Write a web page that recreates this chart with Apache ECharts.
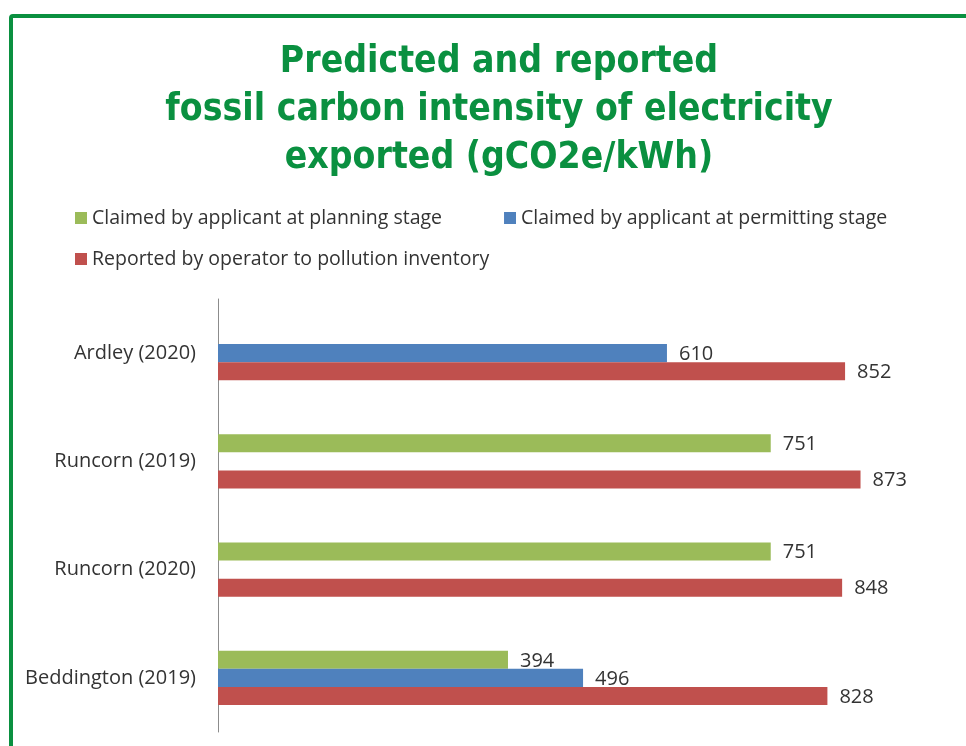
<!DOCTYPE html>
<html>
<head>
<meta charset="utf-8">
<script src="https://cdn.jsdelivr.net/npm/echarts@6/dist/echarts.min.js"></script>
<style>
  html, body { margin: 0; padding: 0; background: #fff; }
  #chart { width: 966px; height: 746px; }
</style>
</head>
<body>
<div id="chart"></div>
<script>
// data
const sites = ['Ardley (2020)', 'Runcorn (2019)', 'Runcorn (2020)', 'Beddington (2019)'];
const seriesNames = [
  'Claimed by applicant at planning stage',
  'Claimed by applicant at permitting stage',
  'Reported by operator to pollution inventory'
];
const planning = [null, 751, 751, 394];
const permitting = [610, null, null, 496];
const reported = [852, 873, 848, 828];

const green = '#0a9040';
const textColor = '#333333';
const barColors = ['#9bbb59', '#4f81bd', '#c0504d'];

const chart = echarts.init(document.getElementById('chart'));

const makeSeries = (name, values, color) => ({
  name: name,
  type: 'bar',
  data: values.map(v => (v === null ? '-' : v)),
  barGap: '0%',
  barCategoryGap: '50%',
  itemStyle: { color: color },
  label: {
    show: true,
    position: 'right',
    distance: 12,
    color: textColor,
    fontFamily: 'Open Sans',
    fontSize: 20,
    offset: [0, 1]
  }
});

chart.setOption({
  animation: false,
  backgroundColor: '#ffffff',
  graphic: [{
    type: 'rect',
    shape: { x: 11, y: 16, width: 1200, height: 1000, r: 2 },
    style: { fill: 'none', stroke: green, lineWidth: 4 },
    silent: true
  }],
  title: {
    text: 'Predicted and reported\nfossil carbon intensity of electricity\nexported (gCO2e/kWh)',
    left: 494,
    textAlign: 'center',
    top: 33,
    textStyle: {
      color: green,
      fontFamily: 'DejaVu Sans Condensed',
      fontWeight: 'bold',
      fontSize: 37,
      lineHeight: 48
    }
  },
  legend: [{
    data: [seriesNames[0], seriesNames[1]],
    left: 70,
    top: 203,
    itemWidth: 12,
    itemHeight: 12,
    itemGap: 62,
    icon: 'rect',
    textStyle: { color: textColor, fontFamily: 'Open Sans', fontSize: 19.5 }
  }, {
    data: [seriesNames[2]],
    left: 70,
    top: 244,
    itemWidth: 12,
    itemHeight: 12,
    icon: 'rect',
    textStyle: { color: textColor, fontFamily: 'Open Sans', fontSize: 19.5 }
  }],
  grid: { left: 218, right: 12, top: 299, bottom: 14 },
  xAxis: {
    type: 'value',
    min: 0,
    max: 1000,
    show: false,
    splitLine: { show: false }
  },
  yAxis: {
    type: 'category',
    data: sites,
    inverse: true,
    axisLine: { show: true, lineStyle: { color: '#8c8c8c', width: 1 } },
    axisTick: { show: false },
    axisLabel: {
      color: textColor,
      fontFamily: 'Open Sans',
      fontSize: 20,
      margin: 22
    }
  },
  series: [
    makeSeries(seriesNames[0], planning, barColors[0]),
    makeSeries(seriesNames[1], permitting, barColors[1]),
    makeSeries(seriesNames[2], reported, barColors[2])
  ]
});
</script>
</body>
</html>
